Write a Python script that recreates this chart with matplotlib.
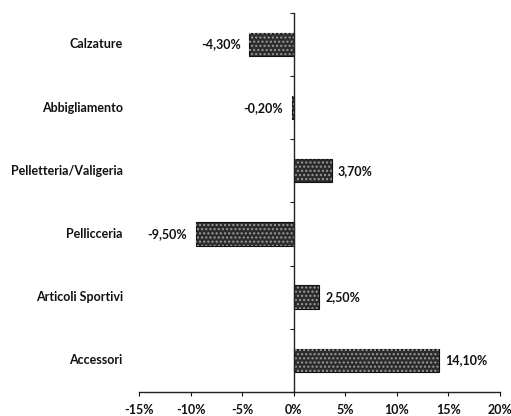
import matplotlib.pyplot as plt
import matplotlib.transforms as mtransforms
from matplotlib.ticker import FixedLocator, FuncFormatter

plt.rcParams["font.family"] = ["Lato", "DejaVu Sans"]
plt.rcParams["font.weight"] = "bold"

categories = ["Calzature", "Abbigliamento", "Pelletteria/Valigeria",
              "Pellicceria", "Articoli Sportivi", "Accessori"]
values = [-4.3, -0.2, 3.7, -9.5, 2.5, 14.1]
x_ticks = [-15, -10, -5, 0, 5, 10, 15, 20]

FS = 9


def fmt_pct(v: float) -> str:
    return f"{v:.2f}%".replace(".", ",")


def main() -> None:
    fig = plt.figure(figsize=(5.11, 4.16), dpi=100)
    ax = fig.add_axes([0.272, 0.058, 0.706, 0.911])

    ypos = list(range(len(categories)))
    # dark fill, then a light stipple on top like the scanned original
    ax.barh(ypos, values, height=0.37, color="#2c2c2c", edgecolor="#111111",
            linewidth=0.8)
    ax.barh(ypos, values, height=0.37, color="none", edgecolor="#9c9c9c",
            linewidth=0, hatch="....")

    ax.set_xlim(-15, 20)
    ax.set_ylim(len(categories) - 0.5, -0.5)

    ax.spines["top"].set_visible(False)
    ax.spines["right"].set_visible(False)
    ax.spines["left"].set_position(("data", 0))
    for s in ("left", "bottom"):
        ax.spines[s].set_linewidth(1.0)
        ax.spines[s].set_color("#222222")

    ax.set_xticks(x_ticks)
    ax.xaxis.set_major_formatter(FuncFormatter(lambda v, _: f"{v:.0f}%"))
    ax.tick_params(axis="x", direction="out", length=3, width=0.8,
                   labelsize=FS, pad=6, colors="#111111")

    ax.yaxis.set_major_locator(FixedLocator([i + 0.5 for i in range(-1, len(categories))]))
    ax.set_yticklabels([])
    ax.tick_params(axis="y", direction="out", length=3, width=0.8, colors="#222222")

    trans = mtransforms.blended_transform_factory(ax.transAxes, ax.transData)
    for y, name in zip(ypos, categories):
        ax.text(-0.045, y, name, transform=trans, ha="right", va="center",
                fontsize=FS, fontweight="bold", color="#111111")

    off = mtransforms.offset_copy
    for y, v in zip(ypos, values):
        if v < 0:
            t = off(ax.transData, fig=fig, x=-6, y=0, units="points")
            ax.text(v, y, fmt_pct(v), transform=t, ha="right", va="center",
                    fontsize=FS, fontweight="bold", color="#111111")
        else:
            t = off(ax.transData, fig=fig, x=4.5, y=0, units="points")
            ax.text(v, y, fmt_pct(v), transform=t, ha="left", va="center",
                    fontsize=FS, fontweight="bold", color="#111111")

    fig.savefig("out.png", dpi=100)


if __name__ == "__main__":
    main()
